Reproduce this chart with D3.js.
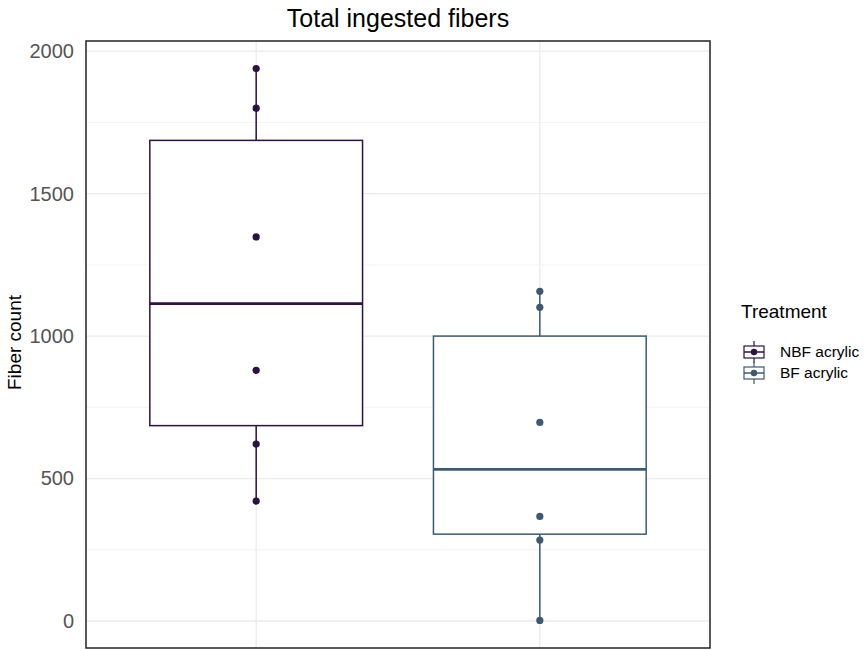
<!DOCTYPE html>
<html>
<head>
<meta charset="utf-8">
<script src="https://cdn.jsdelivr.net/npm/d3@7"></script>
<style>
  body { margin: 0; background: #fff; }
  svg text { font-family: "Liberation Sans", Arial, sans-serif; }
</style>
</head>
<body>
<div id="chart"></div>
<script>
// data
var treatments = ["NBF acrylic", "BF acrylic"];
var nbfValues = [421, 621, 880, 1348, 1800, 1939];
var bfValues = [2, 284, 367, 697, 1101, 1157];
var colors = ["#2c1147", "#3d5a74"];
var yTicks = [0, 500, 1000, 1500, 2000];
var yMinor = [250, 750, 1250, 1750];

var W = 865, H = 650;
var panel = {left: 86, right: 710, top: 41, bottom: 648};

var groups = [nbfValues, bfValues].map(function(vals, i) {
  var s = vals.slice().sort(d3.ascending);
  return {
    name: treatments[i],
    values: s,
    color: colors[i],
    q1: d3.quantile(s, 0.25),
    med: d3.quantile(s, 0.5),
    q3: d3.quantile(s, 0.75),
    min: s[0],
    max: s[s.length - 1]
  };
});

var allVals = nbfValues.concat(bfValues);
var ext = d3.extent(allVals);
var pad = (ext[1] - ext[0]) * 0.05;

var y = d3.scaleLinear()
    .domain([ext[0] - pad, ext[1] + pad])
    .range([panel.bottom, panel.top]);

// discrete x like ggplot: 0.6 units expansion each side
var x = d3.scaleLinear()
    .domain([0.4, treatments.length + 0.6])
    .range([panel.left, panel.right]);
var unit = x(2) - x(1);
var boxW = unit * 0.75;

var svg = d3.select("#chart").append("svg")
    .attr("width", W)
    .attr("height", H);

// grid
svg.selectAll(".minor")
    .data(yMinor)
    .enter().append("line")
    .attr("x1", panel.left).attr("x2", panel.right)
    .attr("y1", function(d) { return y(d); })
    .attr("y2", function(d) { return y(d); })
    .attr("stroke", "#f0f0f0")
    .attr("stroke-width", 0.8);

svg.selectAll(".major")
    .data(yTicks)
    .enter().append("line")
    .attr("x1", panel.left).attr("x2", panel.right)
    .attr("y1", function(d) { return y(d); })
    .attr("y2", function(d) { return y(d); })
    .attr("stroke", "#ebebeb")
    .attr("stroke-width", 1.3);

svg.selectAll(".vgrid")
    .data(treatments)
    .enter().append("line")
    .attr("x1", function(d, i) { return x(i + 1); })
    .attr("x2", function(d, i) { return x(i + 1); })
    .attr("y1", panel.top).attr("y2", panel.bottom)
    .attr("stroke", "#ebebeb")
    .attr("stroke-width", 1.3);

// boxes
var g = svg.selectAll(".box")
    .data(groups)
    .enter().append("g")
    .attr("class", "box");

g.append("line")
    .attr("x1", function(d, i) { return x(i + 1); })
    .attr("x2", function(d, i) { return x(i + 1); })
    .attr("y1", function(d) { return y(d.max); })
    .attr("y2", function(d) { return y(d.q3); })
    .attr("stroke", function(d) { return d.color; })
    .attr("stroke-width", 1.5);

g.append("line")
    .attr("x1", function(d, i) { return x(i + 1); })
    .attr("x2", function(d, i) { return x(i + 1); })
    .attr("y1", function(d) { return y(d.q1); })
    .attr("y2", function(d) { return y(d.min); })
    .attr("stroke", function(d) { return d.color; })
    .attr("stroke-width", 1.5);

g.append("rect")
    .attr("x", function(d, i) { return x(i + 1) - boxW / 2; })
    .attr("width", boxW)
    .attr("y", function(d) { return y(d.q3); })
    .attr("height", function(d) { return y(d.q1) - y(d.q3); })
    .attr("fill", "#fff")
    .attr("stroke", function(d) { return d.color; })
    .attr("stroke-width", 1.5);

g.append("line")
    .attr("x1", function(d, i) { return x(i + 1) - boxW / 2; })
    .attr("x2", function(d, i) { return x(i + 1) + boxW / 2; })
    .attr("y1", function(d) { return y(d.med); })
    .attr("y2", function(d) { return y(d.med); })
    .attr("stroke", function(d) { return d.color; })
    .attr("stroke-width", 2.8);

g.each(function(d, i) {
  d3.select(this).selectAll(".dot")
      .data(d.values)
      .enter().append("circle")
      .attr("class", "dot")
      .attr("cx", x(i + 1))
      .attr("cy", function(v) { return y(v); })
      .attr("r", 3.6)
      .attr("fill", d.color);
});

// panel border
svg.append("rect")
    .attr("x", panel.left).attr("y", panel.top)
    .attr("width", panel.right - panel.left)
    .attr("height", panel.bottom - panel.top)
    .attr("fill", "none")
    .attr("stroke", "#222")
    .attr("stroke-width", 1.5);

// y axis labels
var yAxis = d3.axisLeft(y).tickValues(yTicks).tickFormat(d3.format("d"))
    .tickSize(0).tickPadding(12);
var ax = svg.append("g")
    .attr("transform", "translate(" + panel.left + ",0)")
    .call(yAxis);
ax.select(".domain").remove();
ax.selectAll("text")
    .attr("fill", "#555")
    .style("font-size", "20px");

svg.append("text")
    .attr("transform", "translate(21," + ((panel.top + panel.bottom) / 2 - 2) + ") rotate(-90)")
    .attr("text-anchor", "middle")
    .style("font-size", "19px")
    .attr("fill", "#000")
    .text("Fiber count");

// title
svg.append("text")
    .attr("x", (panel.left + panel.right) / 2)
    .attr("y", 27)
    .attr("text-anchor", "middle")
    .style("font-size", "25px")
    .attr("fill", "#000")
    .text("Total ingested fibers");

// legend
var lg = svg.append("g").attr("transform", "translate(741,0)");
lg.append("text")
    .attr("x", 0).attr("y", 318)
    .style("font-size", "19px")
    .attr("fill", "#000")
    .text("Treatment");

var items = lg.selectAll(".item")
    .data(groups)
    .enter().append("g")
    .attr("transform", function(d, i) { return "translate(0," + (352 + i * 21) + ")"; });

items.append("line")
    .attr("x1", 13).attr("x2", 13)
    .attr("y1", -11).attr("y2", 11)
    .attr("stroke", function(d) { return d.color; })
    .attr("stroke-width", 1.2);
items.append("rect")
    .attr("x", 3).attr("y", -6)
    .attr("width", 20).attr("height", 12)
    .attr("fill", "#fff")
    .attr("stroke", function(d) { return d.color; })
    .attr("stroke-width", 1.2);
items.append("line")
    .attr("x1", 3).attr("x2", 23)
    .attr("y1", 0).attr("y2", 0)
    .attr("stroke", function(d) { return d.color; })
    .attr("stroke-width", 1.5);
items.append("circle")
    .attr("cx", 13).attr("cy", 0)
    .attr("r", 3.2)
    .attr("fill", function(d) { return d.color; });
items.append("text")
    .attr("x", 39).attr("y", 0)
    .attr("dy", "0.35em")
    .style("font-size", "15.5px")
    .attr("fill", "#000")
    .text(function(d) { return d.name; });
</script>
</body>
</html>
